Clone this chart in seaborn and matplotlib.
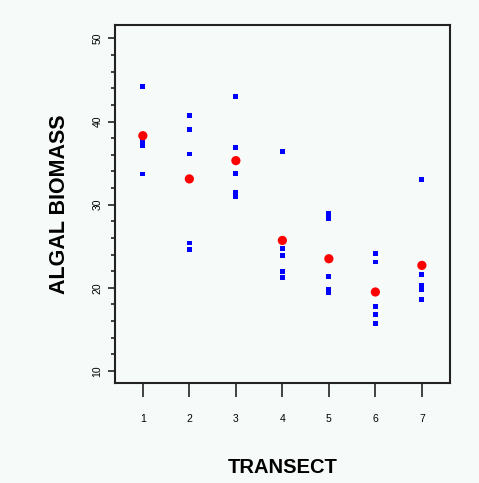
import matplotlib
matplotlib.use("Agg")
import matplotlib.pyplot as plt
import numpy as np
import pandas as pd
import seaborn as sns
from matplotlib.ticker import MultipleLocator

# individual samples per transect (blue)
transect = [1, 1, 1, 1,
            2, 2, 2, 2, 2,
            3, 3, 3, 3, 3,
            4, 4, 4, 4, 4,
            5, 5, 5, 5, 5,
            6, 6, 6, 6, 6,
            7, 7, 7, 7, 7]
biomass = [44.2, 37.6, 37.1, 33.7,
           40.7, 39.0, 36.1, 25.4, 24.6,
           43.0, 36.9, 33.8, 31.5, 31.0,
           36.4, 24.7, 23.9, 22.0, 21.2,
           28.9, 28.3, 21.4, 19.8, 19.4,
           24.1, 23.1, 17.8, 16.8, 15.7,
           33.0, 21.6, 20.3, 19.8, 18.6]

# transect means (red)
mean_transect = [1, 2, 3, 4, 5, 6, 7]
mean_biomass = [38.3, 33.1, 35.3, 25.7, 23.5, 19.5, 22.7]

samples = pd.DataFrame({"transect": transect, "biomass": biomass})
means = pd.DataFrame({"transect": mean_transect, "biomass": mean_biomass})

sns.set_style("white")
plt.rcParams["font.family"] = ["Liberation Sans", "DejaVu Sans"]
plt.rcParams["text.color"] = "black"
plt.rcParams["axes.labelcolor"] = "black"
plt.rcParams["xtick.color"] = "black"
plt.rcParams["ytick.color"] = "black"
bg = "#f6faf8"

fig = plt.figure(figsize=(4.79, 4.83), dpi=100, facecolor=bg)
ax = fig.add_axes([0.240, 0.207, 0.699, 0.741])
ax.set_facecolor(bg)

sns.scatterplot(data=samples, x="transect", y="biomass", ax=ax, marker="s",
                s=12, color="#0000ff", edgecolor="none", linewidth=0)
sns.scatterplot(data=means, x="transect", y="biomass", ax=ax, marker="o",
                s=44, color="#ff0000", edgecolor="none", linewidth=0, zorder=3)

ax.set_xlim(0.4, 7.6)
ax.set_ylim(8.55, 51.6)
ax.set_xticks(mean_transect)
ax.yaxis.set_major_locator(MultipleLocator(10))
ax.yaxis.set_minor_locator(MultipleLocator(2))

for sp in ax.spines.values():
    sp.set_color("#222222")
    sp.set_linewidth(1.5)

ax.tick_params(axis="x", which="major", direction="out", length=10, width=1.2,
               color="#222222", pad=12, labelsize=7.5, bottom=True)
ax.tick_params(axis="y", which="major", direction="out", length=5, width=1.2,
               color="#222222", pad=4, labelsize=7.5, left=True)
ax.tick_params(axis="y", which="minor", direction="out", length=3, width=1.2,
               color="#222222", left=True)
for lbl in ax.get_yticklabels():
    lbl.set_rotation(90)
    lbl.set_va("center")

ax.set_xlabel("TRANSECT", fontsize=14.5, fontweight="bold", labelpad=25)
ax.set_ylabel("ALGAL BIOMASS", fontsize=15.5, fontweight="bold", labelpad=16)

fig.savefig("out.png", dpi=100, facecolor=bg)
